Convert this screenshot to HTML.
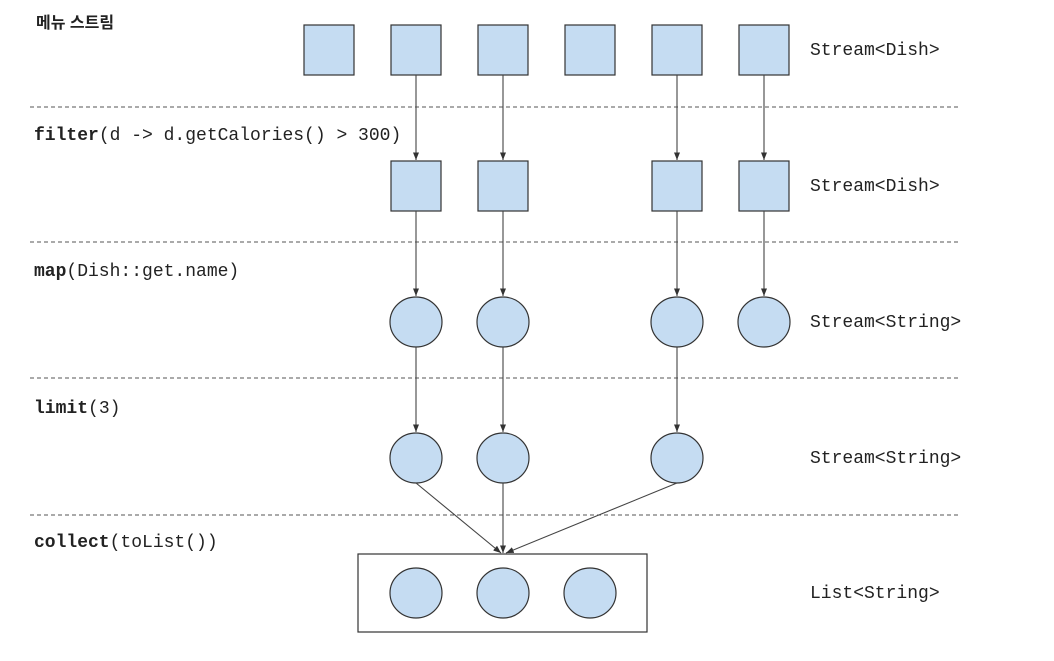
<!DOCTYPE html>
<html><head><meta charset="utf-8"><style>
body{margin:0;background:#fff;width:1054px;height:656px;overflow:hidden}
svg text{font-family:"Liberation Mono","DejaVu Sans Mono",monospace;font-size:18px;fill:#222}
</style></head><body>
<svg width="1054" height="656" viewBox="0 0 1054 656" xmlns="http://www.w3.org/2000/svg">
<defs><marker id="a" viewBox="0 0 10 10" refX="10" refY="5" markerWidth="7" markerHeight="7" orient="auto"><path d="M0,1L10,5L0,9z" fill="#333"/></marker></defs>
<g stroke="#555" stroke-dasharray="4,3" stroke-width="1">
<line x1="30" y1="107" x2="960" y2="107"/><line x1="30" y1="242" x2="960" y2="242"/>
<line x1="30" y1="378" x2="960" y2="378"/><line x1="30" y1="515" x2="960" y2="515"/>
</g>
<g fill="#c5dcf2" stroke="#333" stroke-width="1.2">
<rect x="304" y="25" width="50" height="50"/><rect x="391" y="25" width="50" height="50"/><rect x="478" y="25" width="50" height="50"/><rect x="565" y="25" width="50" height="50"/><rect x="652" y="25" width="50" height="50"/><rect x="739" y="25" width="50" height="50"/>
<rect x="391" y="161" width="50" height="50"/><rect x="478" y="161" width="50" height="50"/><rect x="652" y="161" width="50" height="50"/><rect x="739" y="161" width="50" height="50"/>
<ellipse cx="416" cy="322" rx="26" ry="25"/><ellipse cx="503" cy="322" rx="26" ry="25"/><ellipse cx="677" cy="322" rx="26" ry="25"/><ellipse cx="764" cy="322" rx="26" ry="25"/>
<ellipse cx="416" cy="458" rx="26" ry="25"/><ellipse cx="503" cy="458" rx="26" ry="25"/><ellipse cx="677" cy="458" rx="26" ry="25"/>
<ellipse cx="416" cy="593" rx="26" ry="25"/><ellipse cx="503" cy="593" rx="26" ry="25"/><ellipse cx="590" cy="593" rx="26" ry="25"/>
</g>
<rect x="358" y="554" width="289" height="78" fill="none" stroke="#333" stroke-width="1.2"/>
<g stroke="#444" stroke-width="1.1" marker-end="url(#a)">
<line x1="416" y1="75" x2="416" y2="160"/><line x1="503" y1="75" x2="503" y2="160"/><line x1="677" y1="75" x2="677" y2="160"/><line x1="764" y1="75" x2="764" y2="160"/>
<line x1="416" y1="211" x2="416" y2="296"/><line x1="503" y1="211" x2="503" y2="296"/><line x1="677" y1="211" x2="677" y2="296"/><line x1="764" y1="211" x2="764" y2="296"/>
<line x1="416" y1="347" x2="416" y2="432"/><line x1="503" y1="347" x2="503" y2="432"/><line x1="677" y1="347" x2="677" y2="432"/>
<line x1="416" y1="483" x2="501" y2="553"/><line x1="503" y1="483" x2="503" y2="553"/><line x1="677" y1="483" x2="506" y2="553"/>
</g>
<text x="36" y="28" style="font-family:'Liberation Sans','Noto Sans CJK KR',sans-serif;font-size:16px;font-weight:bold">메뉴 스트림</text>
<text x="34" y="140"><tspan font-weight="bold">filter</tspan>(d -&gt; d.getCalories() &gt; 300)</text>
<text x="34" y="276"><tspan font-weight="bold">map</tspan>(Dish::get.name)</text>
<text x="34" y="413"><tspan font-weight="bold">limit</tspan>(3)</text>
<text x="34" y="547"><tspan font-weight="bold">collect</tspan>(toList())</text>
<text x="810" y="55">Stream&lt;Dish&gt;</text>
<text x="810" y="191">Stream&lt;Dish&gt;</text>
<text x="810" y="327">Stream&lt;String&gt;</text>
<text x="810" y="463">Stream&lt;String&gt;</text>
<text x="810" y="598">List&lt;String&gt;</text>
</svg>
</body></html>
